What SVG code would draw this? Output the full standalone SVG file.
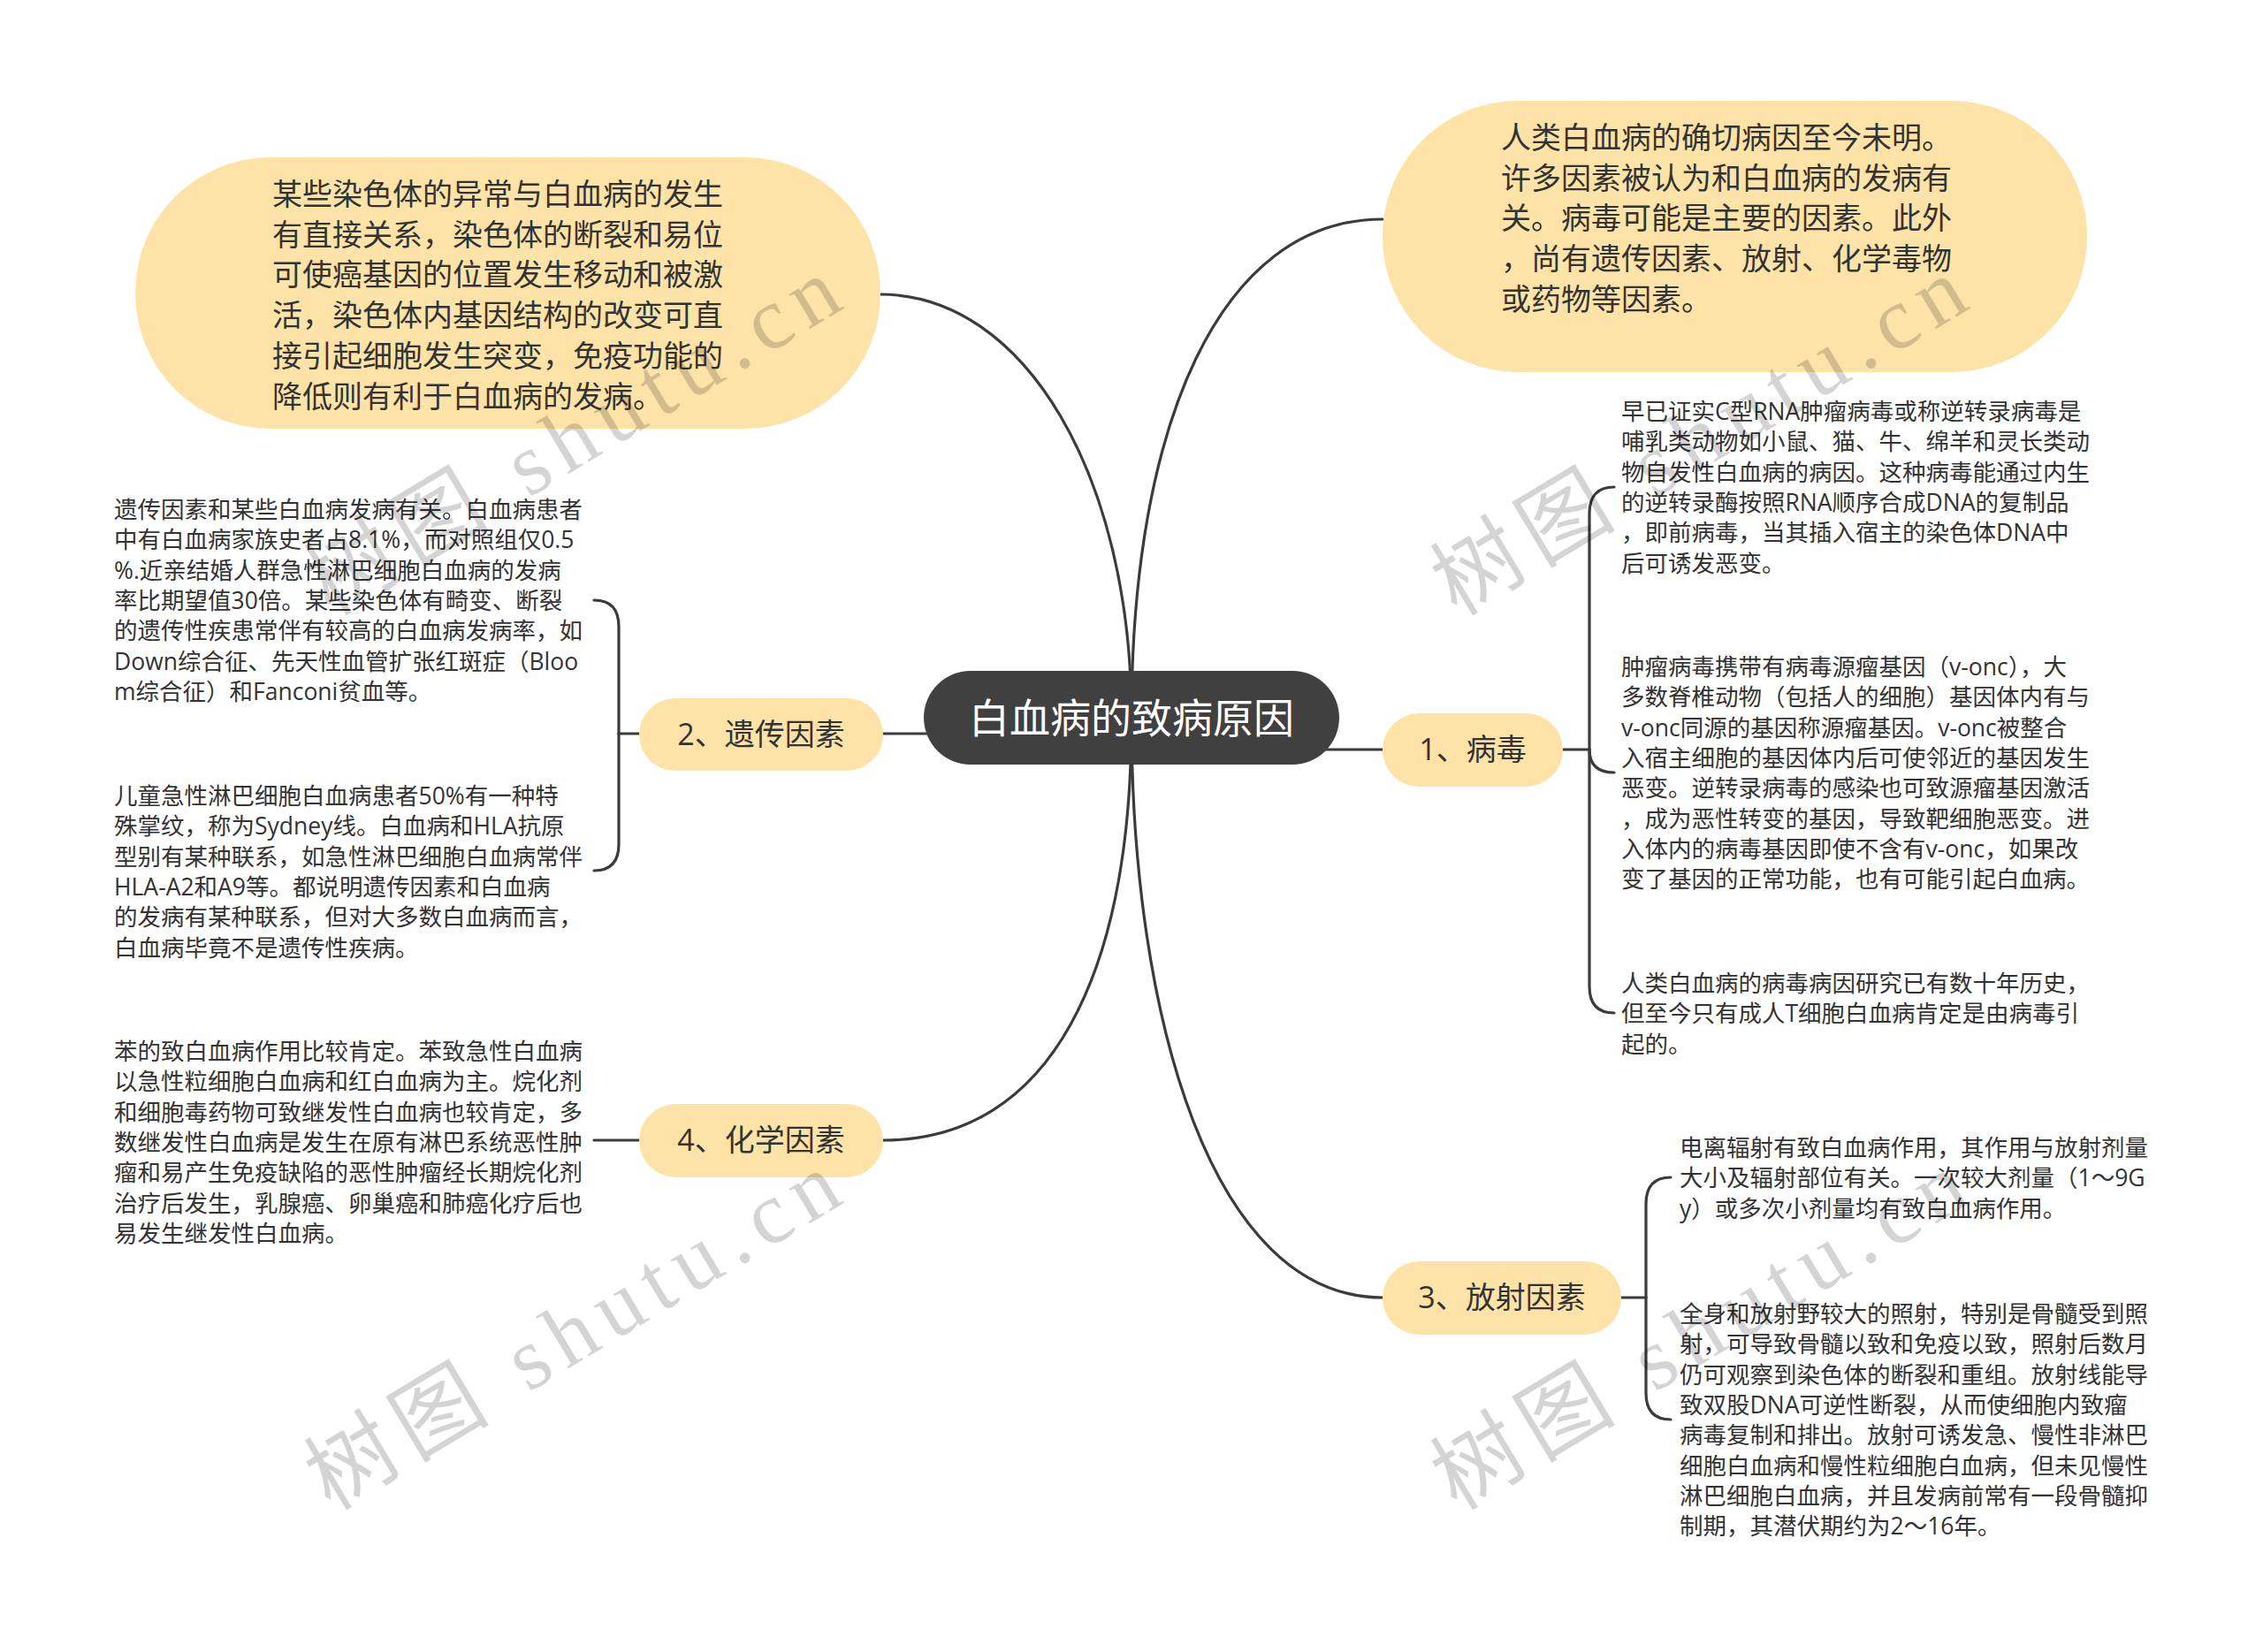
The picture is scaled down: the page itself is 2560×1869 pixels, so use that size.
<svg xmlns="http://www.w3.org/2000/svg" width="2560" height="1869" viewBox="0 0 2560 1869">
<style>
.c{fill:none;stroke:#3b3b3b;stroke-width:3.2;stroke-linecap:round}
.y{fill:#FDE3A8}
.t{font-family:"Open Sans","Noto Sans CJK SC",sans-serif;fill:#333}
.s{font-size:26.5px}
.b{font-size:34px}
.m{text-anchor:middle}
.wm{font-family:"Liberation Serif","Noto Sans CJK SC",serif;font-size:100px;fill:#000;fill-opacity:.17}
</style>
<rect width="2560" height="1869" fill="#fff"/>
<g id="connectors">
<path class="c" d="M1280 812 C1280 540 1160 333 996 333"/>
<path class="c" d="M1280 812 C1280 480 1380 248 1564 248"/>
<path class="c" d="M1400 848 L1564 848"/>
<path class="c" d="M1150 830 L999 830"/>
<path class="c" d="M1280 812 C1280 1150 1370 1468 1564 1468"/>
<path class="c" d="M1280 812 C1280 1100 1190 1290 999 1290"/>
<path class="c" d="M1768 848 H1798"/>
<path class="c" d="M1798 848 V581 Q1798 551 1826 551"/>
<path class="c" d="M1798 848 Q1798 874 1826 874"/>
<path class="c" d="M1798 848 V1116 Q1798 1146 1826 1146"/>
<path class="c" d="M1834 1468 H1862"/>
<path class="c" d="M1862 1468 V1362 Q1862 1332 1890 1332"/>
<path class="c" d="M1862 1468 V1576 Q1862 1606 1890 1606"/>
<path class="c" d="M723 830 H700"/>
<path class="c" d="M700 830 V709 Q700 679 672 679"/>
<path class="c" d="M700 830 V955 Q700 985 672 985"/>
<path class="c" d="M723 1290 H672"/>
</g>
<g id="root">
<rect x="1045" y="759" width="470" height="106" rx="53" fill="#404040"/>
<text class="m" x="1280" y="829" font-family="'Open Sans','Noto Sans CJK SC',sans-serif" font-size="46" fill="#fff">白血病的致病原因</text>
</g>
<g id="note-top-left">
<rect class="y" x="153" y="178" width="843" height="307" rx="153"/>
<text class="t b"><tspan x="308" y="232">某些染色体的异常与白血病的发生</tspan><tspan x="308" dy="45.7">有直接关系，染色体的断裂和易位</tspan><tspan x="308" dy="45.7">可使癌基因的位置发生移动和被激</tspan><tspan x="308" dy="45.7">活，染色体内基因结构的改变可直</tspan><tspan x="308" dy="45.7">接引起细胞发生突变，免疫功能的</tspan><tspan x="308" dy="45.7">降低则有利于白血病的发病。</tspan></text>
</g>
<g id="note-top-right">
<rect class="y" x="1564" y="114" width="797" height="307" rx="153"/>
<text class="t b"><tspan x="1698" y="168">人类白血病的确切病因至今未明。</tspan><tspan x="1698" dy="45.7">许多因素被认为和白血病的发病有</tspan><tspan x="1698" dy="45.7">关。病毒可能是主要的因素。此外</tspan><tspan x="1698" dy="45.7">，尚有遗传因素、放射、化学毒物</tspan><tspan x="1698" dy="45.7">或药物等因素。</tspan></text>
</g>
<g id="node1">
<rect class="y" x="1564" y="807" width="204" height="83" rx="41.5"/>
<text class="t b m" x="1666" y="860">1、病毒</text>
</g>
<g id="node1-a">
<text class="t s"><tspan x="1834" y="475">早已证实C型RNA肿瘤病毒或称逆转录病毒是</tspan><tspan x="1834" dy="34.3">哺乳类动物如小鼠、猫、牛、绵羊和灵长类动</tspan><tspan x="1834" dy="34.3">物自发性白血病的病因。这种病毒能通过内生</tspan><tspan x="1834" dy="34.3">的逆转录酶按照RNA顺序合成DNA的复制品</tspan><tspan x="1834" dy="34.3">，即前病毒，当其插入宿主的染色体DNA中</tspan><tspan x="1834" dy="34.3">后可诱发恶变。</tspan></text>
</g>
<g id="node1-b">
<text class="t s"><tspan x="1834" y="764">肿瘤病毒携带有病毒源瘤基因（v-onc），大</tspan><tspan x="1834" dy="34.3">多数脊椎动物（包括人的细胞）基因体内有与</tspan><tspan x="1834" dy="34.3">v-onc同源的基因称源瘤基因。v-onc被整合</tspan><tspan x="1834" dy="34.3">入宿主细胞的基因体内后可使邻近的基因发生</tspan><tspan x="1834" dy="34.3">恶变。逆转录病毒的感染也可致源瘤基因激活</tspan><tspan x="1834" dy="34.3">，成为恶性转变的基因，导致靶细胞恶变。进</tspan><tspan x="1834" dy="34.3">入体内的病毒基因即使不含有v-onc，如果改</tspan><tspan x="1834" dy="34.3">变了基因的正常功能，也有可能引起白血病。</tspan></text>
</g>
<g id="node1-c">
<text class="t s"><tspan x="1834" y="1122">人类白血病的病毒病因研究已有数十年历史，</tspan><tspan x="1834" dy="34.3">但至今只有成人T细胞白血病肯定是由病毒引</tspan><tspan x="1834" dy="34.3">起的。</tspan></text>
</g>
<g id="node2">
<rect class="y" x="723" y="790" width="276" height="82" rx="41"/>
<text class="t b m" x="861" y="843">2、遗传因素</text>
</g>
<g id="node2-a">
<text class="t s"><tspan x="129" y="586">遗传因素和某些白血病发病有关。白血病患者</tspan><tspan x="129" dy="34.3">中有白血病家族史者占8.1%，而对照组仅0.5</tspan><tspan x="129" dy="34.3">%.近亲结婚人群急性淋巴细胞白血病的发病</tspan><tspan x="129" dy="34.3">率比期望值30倍。某些染色体有畸变、断裂</tspan><tspan x="129" dy="34.3">的遗传性疾患常伴有较高的白血病发病率，如</tspan><tspan x="129" dy="34.3">Down综合征、先天性血管扩张红斑症（Bloo</tspan><tspan x="129" dy="34.3">m综合征）和Fanconi贫血等。</tspan></text>
</g>
<g id="node2-b">
<text class="t s"><tspan x="129" y="910">儿童急性淋巴细胞白血病患者50%有一种特</tspan><tspan x="129" dy="34.3">殊掌纹，称为Sydney线。白血病和HLA抗原</tspan><tspan x="129" dy="34.3">型别有某种联系，如急性淋巴细胞白血病常伴</tspan><tspan x="129" dy="34.3">HLA-A2和A9等。都说明遗传因素和白血病</tspan><tspan x="129" dy="34.3">的发病有某种联系，但对大多数白血病而言，</tspan><tspan x="129" dy="34.3">白血病毕竟不是遗传性疾病。</tspan></text>
</g>
<g id="node3">
<rect class="y" x="1564" y="1427" width="270" height="83" rx="41.5"/>
<text class="t b m" x="1699" y="1480">3、放射因素</text>
</g>
<g id="node3-a">
<text class="t s"><tspan x="1900" y="1308">电离辐射有致白血病作用，其作用与放射剂量</tspan><tspan x="1900" dy="34.3">大小及辐射部位有关。一次较大剂量（1～9G</tspan><tspan x="1900" dy="34.3">y）或多次小剂量均有致白血病作用。</tspan></text>
</g>
<g id="node3-b">
<text class="t s"><tspan x="1900" y="1496">全身和放射野较大的照射，特别是骨髓受到照</tspan><tspan x="1900" dy="34.3">射，可导致骨髓以致和免疫以致，照射后数月</tspan><tspan x="1900" dy="34.3">仍可观察到染色体的断裂和重组。放射线能导</tspan><tspan x="1900" dy="34.3">致双股DNA可逆性断裂，从而使细胞内致瘤</tspan><tspan x="1900" dy="34.3">病毒复制和排出。放射可诱发急、慢性非淋巴</tspan><tspan x="1900" dy="34.3">细胞白血病和慢性粒细胞白血病，但未见慢性</tspan><tspan x="1900" dy="34.3">淋巴细胞白血病，并且发病前常有一段骨髓抑</tspan><tspan x="1900" dy="34.3">制期，其潜伏期约为2～16年。</tspan></text>
</g>
<g id="node4">
<rect class="y" x="723" y="1249" width="276" height="83" rx="41.5"/>
<text class="t b m" x="861" y="1302">4、化学因素</text>
</g>
<g id="node4-a">
<text class="t s"><tspan x="129" y="1199">苯的致白血病作用比较肯定。苯致急性白血病</tspan><tspan x="129" dy="34.3">以急性粒细胞白血病和红白血病为主。烷化剂</tspan><tspan x="129" dy="34.3">和细胞毒药物可致继发性白血病也较肯定，多</tspan><tspan x="129" dy="34.3">数继发性白血病是发生在原有淋巴系统恶性肿</tspan><tspan x="129" dy="34.3">瘤和易产生免疫缺陷的恶性肿瘤经长期烷化剂</tspan><tspan x="129" dy="34.3">治疗后发生，乳腺癌、卵巢癌和肺癌化疗后也</tspan><tspan x="129" dy="34.3">易发生继发性白血病。</tspan></text>
</g>
<g id="watermarks">
<text class="wm" transform="translate(374 698) rotate(-31)" textLength="680" lengthAdjust="spacing">树图 shutu.cn</text>
<text class="wm" transform="translate(1648 698) rotate(-31)" textLength="680" lengthAdjust="spacing">树图 shutu.cn</text>
<text class="wm" transform="translate(374 1710) rotate(-31)" textLength="680" lengthAdjust="spacing">树图 shutu.cn</text>
<text class="wm" transform="translate(1648 1710) rotate(-31)" textLength="680" lengthAdjust="spacing">树图 shutu.cn</text>
</g>
</svg>
